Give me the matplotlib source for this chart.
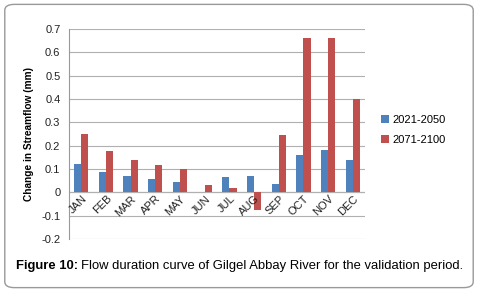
import numpy as np
import matplotlib
matplotlib.use('Agg')
from matplotlib import pyplot as plt
from matplotlib.patches import FancyBboxPatch

######## data ########
months = ['JAN', 'FEB', 'MAR', 'APR', 'MAY', 'JUN', 'JUL', 'AUG', 'SEP', 'OCT', 'NOV', 'DEC']
near = [0.12, 0.088, 0.07, 0.057, 0.045, 0.003, 0.066, 0.071, 0.035, 0.16, 0.182, 0.138]
far = [0.25, 0.178, 0.14, 0.118, 0.10, 0.032, 0.018, -0.075, 0.245, 0.66, 0.66, 0.40]
series_names = ['2021-2050', '2071-2100']
yticks = [-0.2, -0.1, 0, 0.1, 0.2, 0.3, 0.4, 0.5, 0.6, 0.7]

plt.rcParams['font.family'] = ['Liberation Sans', 'DejaVu Sans']

fig = plt.figure(figsize=(4.78, 2.92), dpi=100)
ax = fig.add_axes([0.144, 0.182, 0.62, 0.719])

x = np.arange(len(months))
w = 0.29
ax.bar(x - w/2, near, w, color='#4F81BD', label=series_names[0])
ax.bar(x + w/2, far, w, color='#C0504D', label=series_names[1])

ax.set_xlim(-0.5, len(months) - 0.5)
ax.set_ylim(-0.2, 0.7)
ax.set_yticks(yticks)
ax.set_yticklabels(['%g' % t for t in yticks], fontsize=8, color='#222222')
ax.yaxis.grid(True, color='#b0b0b0', linewidth=0.8)
ax.set_axisbelow(True)
ax.tick_params(axis='y', length=0, pad=6)
ax.set_xticks([])
for s in ['top', 'right', 'bottom']:
    ax.spines[s].set_visible(False)
ax.spines['left'].set_color('#999999')
ax.axhline(0, color='#999999', linewidth=0.8, zorder=0.5)

# month labels sit on the zero line
for i, m in enumerate(months):
    ax.text(i + 0.3, -0.006, m, rotation=45, ha='right', va='top', fontsize=8, color='#222222')

ax.set_ylabel('Change in Streamflow (mm)', fontsize=7.3, fontweight='bold', labelpad=5)

leg = ax.legend(loc='center left', bbox_to_anchor=(1.02, 0.52), frameon=False, fontsize=8,
                handlelength=0.7, handleheight=0.7, handletextpad=0.3, labelspacing=0.9)

# rounded frame around the whole figure
frame = FancyBboxPatch((0.01, 0.015), 0.98, 0.97, boxstyle='round,pad=0,rounding_size=0.02',
                       transform=fig.transFigure, facecolor='none', edgecolor='#999999', linewidth=1.0)
fig.patches.append(frame)

# caption: bold part then normal part
fig.canvas.draw()
r = fig.canvas.get_renderer()
t1 = fig.text(0.033, 0.088, 'Figure 10:', fontsize=9.35, fontweight='bold', va='center')
bb = t1.get_window_extent(renderer=r)
fig.text((bb.x1 + 3) / fig.bbox.width, 0.088, 'Flow duration curve of Gilgel Abbay River for the validation period.',
         fontsize=9.35, va='center')

fig.savefig('out.png', dpi=100)
